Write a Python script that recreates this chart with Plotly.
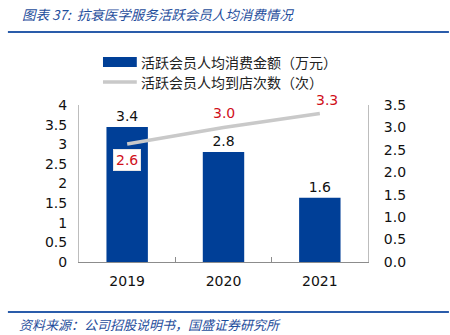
import plotly.graph_objects as go

years = ["2019", "2020", "2021"]
spend = [3.44, 2.80, 1.64]          # 活跃会员人均消费金额（万元）
visits = [2.63, 3.00, 3.31]         # 活跃会员人均到店次数（次）
spend_labels = ["3.4", "2.8", "1.6"]
visit_labels = ["2.6", "3.0", "3.3"]
left_ticks = [0, 0.5, 1, 1.5, 2, 2.5, 3, 3.5, 4]
right_ticks = [0, 0.5, 1.0, 1.5, 2.0, 2.5, 3.0, 3.5]

BLUE = "#003f97"
RED = "#d0101a"
GRAY = "#c9c9c9"
FONT = "DejaVu Sans, Noto Sans CJK SC"
CJK = "Noto Sans CJK SC"

pos = list(range(len(years)))

fig = go.Figure()
fig.add_trace(go.Bar(
    x=pos, y=spend, marker=dict(color=BLUE, line=dict(width=0)),
    width=0.43, text=spend_labels, textposition="outside",
    textfont=dict(color="#111", size=14, family=FONT), cliponaxis=False,
    name="活跃会员人均消费金额（万元）",
))
fig.add_trace(go.Scatter(
    x=pos, y=visits, yaxis="y2", mode="lines",
    line=dict(color=GRAY, width=3.5), name="活跃会员人均到店次数（次）",
))

# line labels
offsets = [(0, -16, True), (0, 14, False), (7, 14, False)]
for xv, yv, lab, (dx, dy, box) in zip(pos, visits, visit_labels, offsets):
    fig.add_annotation(
        x=xv, y=yv, yref="y2", text=lab, showarrow=False,
        xshift=dx, yshift=dy,
        font=dict(color=RED, size=14, family=FONT),
        bgcolor="white" if box else "rgba(0,0,0,0)",
        bordercolor="#e6e6e6" if box else "rgba(0,0,0,0)", borderwidth=1 if box else 0,
        borderpad=2,
    )

# manual legend
fig.add_shape(type="rect", xref="paper", yref="paper", x0=0.083, x1=0.2, y0=1.242, y1=1.306,
              fillcolor=BLUE, line=dict(width=0))
fig.add_shape(type="line", xref="paper", yref="paper", x0=0.083, x1=0.2, y0=1.146, y1=1.146,
              line=dict(color=GRAY, width=3.5))
fig.add_annotation(xref="paper", yref="paper", x=0.207, y=1.274, xanchor="left", yanchor="middle",
                   text="活跃会员人均消费金额（万元）", showarrow=False,
                   font=dict(size=14, family=CJK, color="#222"))
fig.add_annotation(xref="paper", yref="paper", x=0.207, y=1.146, xanchor="left", yanchor="middle",
                   text="活跃会员人均到店次数（次）", showarrow=False,
                   font=dict(size=14, family=CJK, color="#222"))

# title & source
fig.add_annotation(xref="paper", yref="paper", x=-0.205, y=1.58, xanchor="left", yanchor="middle",
                   text="<i>图表 37:  抗衰医学服务活跃会员人均消费情况</i>", showarrow=False,
                   font=dict(size=13.5, family=CJK, color="#1f4e9c"))
fig.add_shape(type="line", xref="paper", yref="paper", x0=-0.246, x1=1.28, y0=1.465, y1=1.465,
              line=dict(color="#2a5caa", width=2))
fig.add_shape(type="line", xref="paper", yref="paper", x0=-0.246, x1=1.28, y0=-0.318, y1=-0.318,
              line=dict(color="#2a5caa", width=2))
fig.add_annotation(xref="paper", yref="paper", x=-0.215, y=-0.4, xanchor="left", yanchor="middle",
                   text="<i>资料来源：公司招股说明书，国盛证券研究所</i>", showarrow=False,
                   font=dict(size=13, family=CJK, color="#1f4e9c"))

fig.update_layout(
    width=450, height=335, margin=dict(l=79, r=82, t=105, b=73),
    plot_bgcolor="white", paper_bgcolor="white", showlegend=False,
    font=dict(family=FONT, size=14, color="#111"),
    xaxis=dict(range=[-0.5, 2.5], tickvals=pos, ticktext=years, showline=True,
               linecolor="#8c8c8c", linewidth=1, ticks="", tickfont=dict(size=14),
               showgrid=False, zeroline=False, ticklabelstandoff=6,
               minor=dict(tickvals=[0.5, 1.5], ticks="inside", ticklen=5,
                          tickcolor="#8c8c8c", showgrid=False)),
    yaxis=dict(range=[0, 4], tickvals=left_ticks, ticktext=[f"{v:g}" for v in left_ticks],
               showline=True, linecolor="#bdbdbd", linewidth=1, showgrid=False, zeroline=False,
               tickfont=dict(size=14), ticks="", ticklabelstandoff=8),
    yaxis2=dict(range=[0, 3.5], overlaying="y", side="right", tickvals=right_ticks,
                ticktext=[f"{v:.1f}" for v in right_ticks], showline=True, linecolor="#bdbdbd",
                linewidth=1, showgrid=False, zeroline=False, tickfont=dict(size=14), ticks="",
                ticklabelstandoff=12),
)

fig.write_html("out.html")
